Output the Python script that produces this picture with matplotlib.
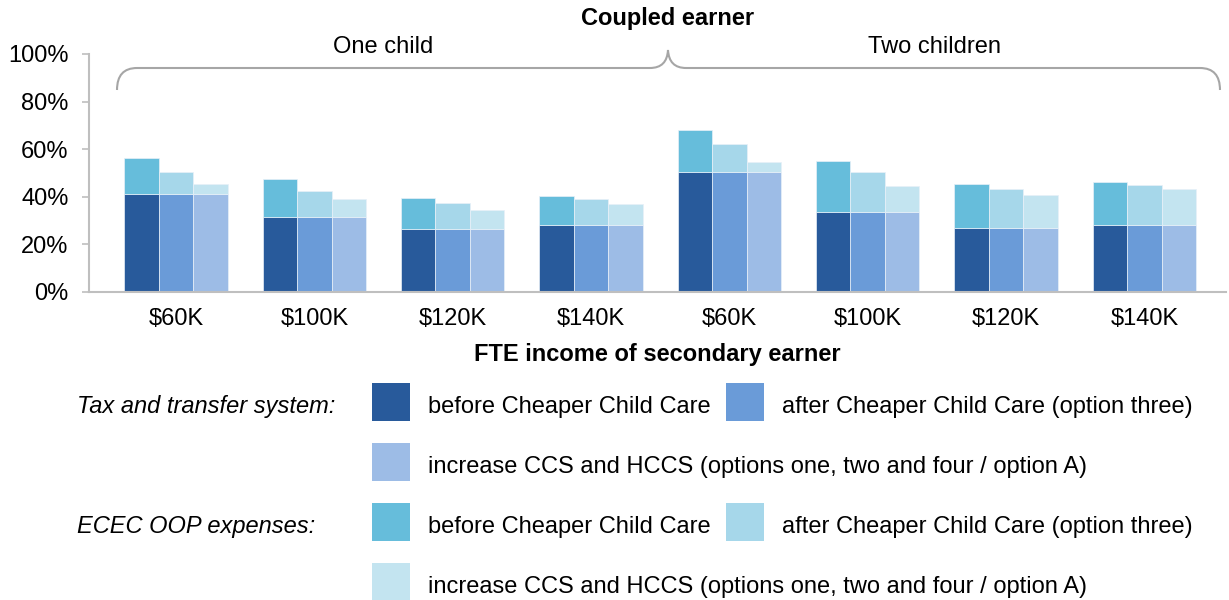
import numpy as np
import matplotlib.pyplot as plt
from matplotlib.patches import Rectangle, PathPatch
from matplotlib.path import Path

# income levels of the secondary earner, one child then two children
categories = ['$60K', '$100K', '$120K', '$140K', '$60K', '$100K', '$120K', '$140K']

# effective marginal tax rate from the tax and transfer system (%)
tax_before = [41.1, 31.6, 26.4, 28.0, 50.4, 33.7, 27.0, 28.0]
tax_after = [41.1, 31.6, 26.4, 28.0, 50.4, 33.7, 27.0, 28.0]
tax_increase = [41.1, 31.6, 26.4, 28.0, 50.4, 33.7, 27.0, 28.0]

# additional rate from ECEC out-of-pocket expenses (%)
oop_before = [15.0, 15.7, 12.9, 12.4, 17.6, 21.4, 18.2, 18.1]
oop_after = [9.4, 10.8, 10.8, 11.0, 11.9, 16.7, 16.1, 16.8]
oop_increase = [4.2, 7.4, 8.1, 8.9, 4.2, 10.9, 13.6, 15.1]

scenario_labels = ['before Cheaper Child Care',
                   'after Cheaper Child Care (option three)',
                   'increase CCS and HCCS (options one, two and four / option A)']
group_titles = ['Tax and transfer system:', 'ECEC OOP expenses:']

tax_colors = ['#285A9B', '#6A9BD8', '#9DBCE6']
oop_colors = ['#66BDDB', '#A6D7EA', '#C3E4F0']

W, H = 1229, 600
plt.rcParams['font.family'] = ['Liberation Sans', 'DejaVu Sans']
plt.rcParams['font.size'] = 17

fig = plt.figure(figsize=(W / 100, H / 100), dpi=100)


def fx(px):
    return px / W


def fy(py):
    return 1 - py / H


ax = fig.add_axes([fx(89.3), fy(291.7), (1226 - 89.3) / W, (291.7 - 54) / H])

x = np.arange(len(categories))
bw = 0.249
offsets = [-bw, 0, bw]
tax = [tax_before, tax_after, tax_increase]
oop = [oop_before, oop_after, oop_increase]

for j in range(3):
    ax.bar(x + offsets[j], tax[j], bw, color=tax_colors[j],
           edgecolor='#E8F0F8', linewidth=0.5)
    ax.bar(x + offsets[j], oop[j], bw, bottom=tax[j], color=oop_colors[j],
           edgecolor='#E8F0F8', linewidth=0.5)

ax.set_xlim(-0.627, 7.59)
ax.set_ylim(0, 100)
ax.set_yticks(range(0, 101, 20))
ax.set_yticklabels([f'{v}%' for v in range(0, 101, 20)])
ax.set_xticks(x)
ax.set_xticklabels(categories)

for side in ['top', 'right']:
    ax.spines[side].set_visible(False)
for side in ['left', 'bottom']:
    ax.spines[side].set_color('#BFBFBF')
    ax.spines[side].set_linewidth(1.5)
ax.tick_params(axis='y', length=5, width=1.2, color='#BFBFBF', pad=10)
ax.tick_params(axis='x', length=0, pad=12)

fig.text(fx(657.7), fy(355), 'FTE income of secondary earner',
         weight='bold', ha='center', va='center')

# group headings and the brace above the bars
fig.text(fx(668), fy(18), 'Coupled earner', weight='bold', ha='center', va='center')
fig.text(fx(383), fy(47), 'One child', ha='center', va='center')
fig.text(fx(934), fy(47), 'Two children', ha='center', va='center')

brace_px = [(117, 90), (117, 68), (137, 68), (650, 68), (667, 68), (668, 50),
            (669, 68), (686, 68), (1200, 68), (1220, 68), (1220, 90)]
codes = [Path.MOVETO, Path.CURVE3, Path.CURVE3, Path.LINETO, Path.CURVE3, Path.CURVE3,
         Path.CURVE3, Path.CURVE3, Path.LINETO, Path.CURVE3, Path.CURVE3]
brace = Path([(fx(a), fy(b)) for a, b in brace_px], codes)
fig.add_artist(PathPatch(brace, transform=fig.transFigure, facecolor='none',
                         edgecolor='#A6A6A6', linewidth=1.5))

# legend laid out in rows
size = 38
for g, colors in enumerate([tax_colors, oop_colors]):
    row_y = 402 + g * 120
    fig.text(fx(77), fy(row_y + 10.5), group_titles[g], style='italic',
             ha='left', va='baseline')
    spots = [(372, row_y), (726, row_y), (372, row_y + 60)]
    for (px, py), color, label in zip(spots, colors, scenario_labels):
        fig.add_artist(Rectangle((fx(px), fy(py + size / 2)), size / W, size / H,
                                 transform=fig.transFigure, facecolor=color,
                                 edgecolor='none'))
        fig.text(fx(px + 56.5), fy(py + 10.5), label, ha='left', va='baseline')

fig.savefig('out.png', dpi=100)
